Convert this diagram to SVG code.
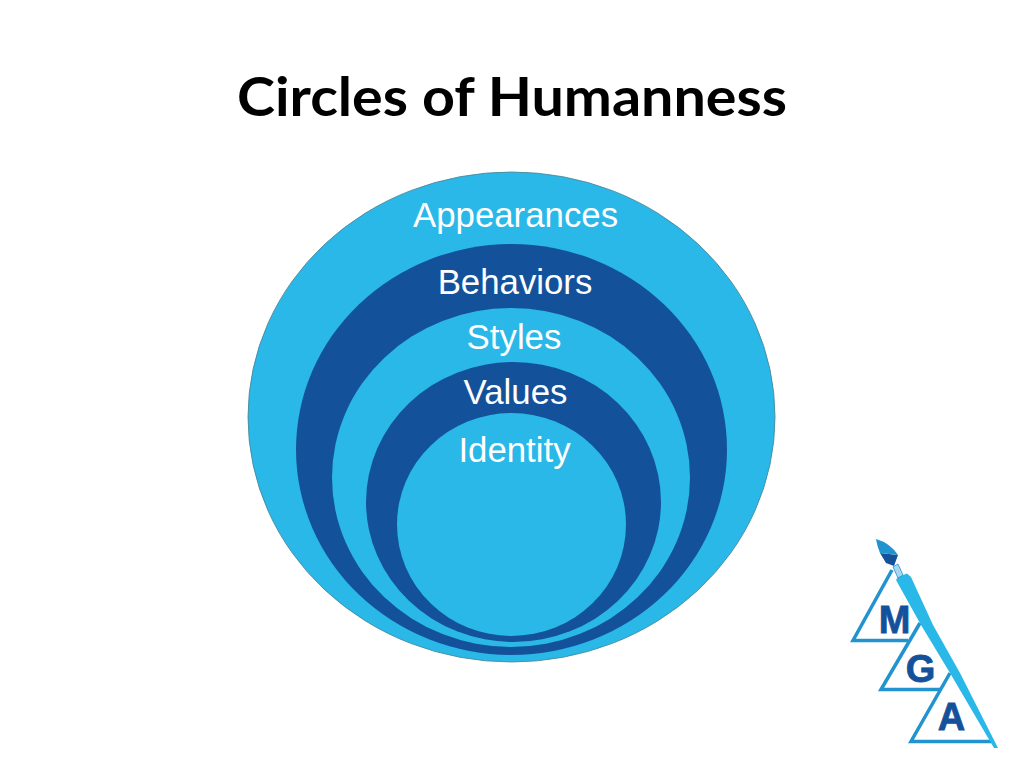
<svg xmlns="http://www.w3.org/2000/svg" width="1024" height="768" viewBox="0 0 1024 768">
<style>
.l{fill:#29b8e8}.d{fill:#14519b}
.r{stroke:#4a8a9c;stroke-width:.9}
.t{font-family:"Liberation Sans",Arial,sans-serif;font-size:34.8px;fill:#fff;text-anchor:middle}
.m{font-family:"Liberation Sans",Arial,sans-serif;font-weight:700;font-size:38px;fill:#14519b;stroke:#14519b;stroke-width:.8;text-anchor:middle}
.tri{fill:none;stroke:#2193cf;stroke-width:3.5;stroke-linejoin:miter}
</style>
<rect width="1024" height="768" fill="#fff"/>
<text id="title" x="512" y="116" text-anchor="middle" font-family="Lato,'Open Sans',sans-serif" font-weight="700" font-size="54" textLength="550" lengthAdjust="spacingAndGlyphs" fill="#000">Circles of Humanness</text>
<g id="appearances"><ellipse class="l r" cx="511.500" cy="417" rx="263.500" ry="245"/><text class="t" x="515.500" y="227">Appearances</text></g>
<g id="behaviors"><ellipse class="d" cx="511.500" cy="449.500" rx="215.500" ry="205.500"/><text class="t" x="515" y="294">Behaviors</text></g>
<g id="styles"><ellipse class="l" cx="511" cy="477.500" rx="179" ry="169.500"/><text class="t" x="514" y="349">Styles</text></g>
<g id="values"><ellipse class="d" cx="513.500" cy="502" rx="147.500" ry="140"/><text class="t" x="515.500" y="404">Values</text></g>
<g id="identity"><ellipse class="l" cx="511.500" cy="524.500" rx="114.500" ry="111.500"/><text class="t" x="514.500" y="462">Identity</text></g>
<g id="logo">
<path class="tri" d="M892 570L853 640.500H908"/>
<path class="tri" d="M920 623L881 689.500H940"/>
<path class="tri" d="M950 673L911 741.500H994"/>
<path fill="#29b8e8" d="M896 580L898 577L907 573.500L911 577L933 625L960 673L998 748L994 748L950 673L921 625Z"/>
<path fill="#a7d8f0" stroke="#2193cf" stroke-width=".8" d="M893 567L898 564L903 575L898 578Z"/>
<path fill="#14519b" d="M880 553L898 555L894 566L886 563Z"/>
<path fill="#2193cf" d="M876 539Q890 543 898 555L880 553Q877 546 876 539Z"/>
<text class="m" x="894.500" y="633">M</text>
<text class="m" x="920.500" y="682">G</text>
<text class="m" x="951.500" y="730">A</text>
</g>
</svg>
